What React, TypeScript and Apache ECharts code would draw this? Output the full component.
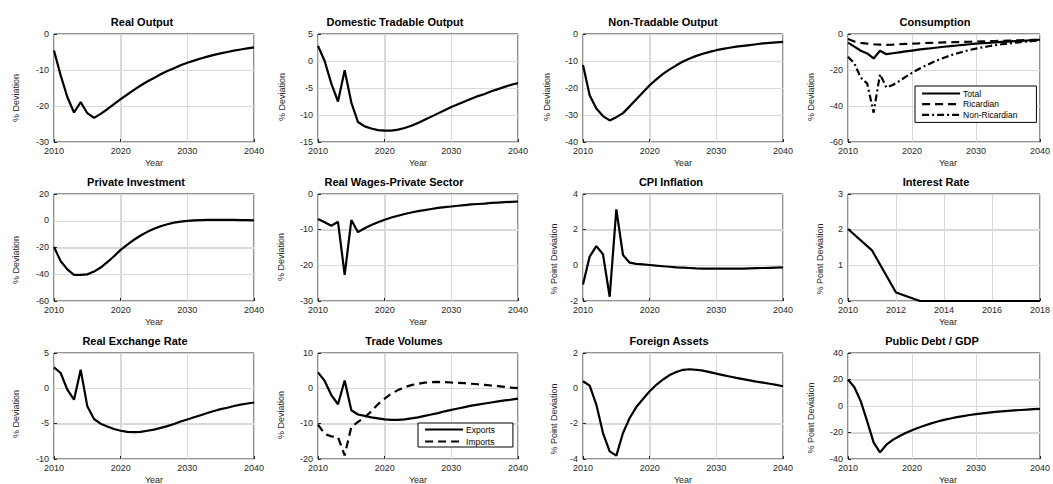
import React, { useEffect, useRef } from "react";
import * as echarts from "echarts";

const years = [2010, 2011, 2012, 2013, 2014, 2015, 2016, 2017, 2018, 2019, 2020, 2021, 2022, 2023, 2024, 2025, 2026, 2027, 2028, 2029, 2030, 2031, 2032, 2033, 2034, 2035, 2036, 2037, 2038, 2039, 2040];
const yearsShort = [2010, 2011, 2012, 2013, 2014, 2015, 2016, 2017, 2018];

const realOutput = [-4.6, -11.5, -17.5, -21.8, -18.9, -22.0, -23.3, -22.2, -20.9, -19.5, -18.1, -16.8, -15.5, -14.3, -13.2, -12.2, -11.2, -10.3, -9.5, -8.7, -8.0, -7.4, -6.8, -6.3, -5.8, -5.4, -5.0, -4.6, -4.3, -4.0, -3.7];
const domTradable = [2.8, 0.0, -4.2, -7.5, -1.7, -7.7, -11.3, -12.1, -12.5, -12.8, -12.9, -12.9, -12.7, -12.4, -12.0, -11.5, -10.9, -10.3, -9.7, -9.1, -8.5, -8.0, -7.5, -7.0, -6.5, -6.1, -5.6, -5.2, -4.8, -4.4, -4.1];
const nonTradable = [-11.5, -22.7, -27.6, -30.4, -32.0, -30.8, -29.3, -26.8, -24.2, -21.6, -19.0, -16.8, -14.8, -13.1, -11.6, -10.2, -9.1, -8.1, -7.3, -6.6, -6.0, -5.5, -5.1, -4.7, -4.4, -4.1, -3.8, -3.5, -3.3, -3.1, -2.9];
const consTotal = [-4.8, -7.0, -9.3, -10.8, -13.6, -9.3, -11.2, -10.7, -10.2, -9.7, -9.2, -8.7, -8.3, -7.9, -7.5, -7.1, -6.7, -6.4, -6.0, -5.7, -5.4, -5.1, -4.9, -4.6, -4.4, -4.2, -4.0, -3.8, -3.6, -3.4, -3.2];
const consRicardian = [-2.8, -4.2, -4.9, -5.3, -5.7, -5.9, -6.0, -5.9, -5.7, -5.5, -5.3, -5.2, -5.0, -4.9, -4.8, -4.7, -4.6, -4.5, -4.4, -4.3, -4.2, -4.1, -4.0, -3.9, -3.8, -3.7, -3.6, -3.5, -3.4, -3.3, -3.2];
const consNonRicardian = [-12.6, -16.4, -24.3, -27.5, -43.7, -22.3, -29.7, -28.3, -26.2, -23.8, -21.6, -19.6, -17.8, -16.1, -14.6, -13.2, -11.9, -10.8, -9.8, -8.9, -8.1, -7.4, -6.8, -6.2, -5.7, -5.3, -4.9, -4.5, -4.2, -3.9, -3.6];
const privInvestment = [-19.6, -30.2, -36.4, -40.4, -40.4, -40.1, -38.0, -35.0, -31.0, -26.5, -21.8, -17.8, -14.2, -11.0, -8.3, -6.0, -4.1, -2.6, -1.4, -0.6, -0.1, 0.3, 0.5, 0.6, 0.7, 0.7, 0.6, 0.6, 0.5, 0.4, 0.3];
const realWages = [-7.0, -7.9, -8.9, -7.8, -22.7, -7.3, -10.7, -9.6, -8.7, -7.9, -7.2, -6.6, -6.1, -5.6, -5.2, -4.8, -4.5, -4.2, -3.9, -3.7, -3.5, -3.3, -3.1, -2.9, -2.8, -2.7, -2.5, -2.4, -2.3, -2.2, -2.1];
const cpiInflation = [-1.07, 0.49, 1.08, 0.62, -1.76, 3.14, 0.58, 0.15, 0.08, 0.05, 0.02, -0.02, -0.05, -0.08, -0.11, -0.13, -0.15, -0.17, -0.18, -0.19, -0.19, -0.19, -0.19, -0.18, -0.18, -0.17, -0.16, -0.15, -0.14, -0.13, -0.12];
const interestRate = [2.02, 1.42, 0.24, 0, 0, 0, 0, 0, 0];
const realExchange = [2.97, 2.17, -0.19, -1.6, 2.64, -2.55, -4.34, -5.0, -5.4, -5.75, -6.0, -6.15, -6.2, -6.15, -6.0, -5.85, -5.6, -5.35, -5.05, -4.7, -4.4, -4.1, -3.8, -3.5, -3.2, -2.95, -2.75, -2.5, -2.3, -2.15, -2.0];
const exportsVol = [4.5, 2.1, -1.9, -4.5, 2.2, -6.2, -7.4, -7.8, -8.2, -8.5, -8.8, -8.9, -8.9, -8.8, -8.5, -8.2, -7.8, -7.4, -7.0, -6.5, -6.1, -5.7, -5.3, -4.9, -4.6, -4.3, -4.0, -3.7, -3.4, -3.2, -2.9];
const importsVol = [-10.3, -12.9, -13.6, -13.8, -19.0, -10.9, -9.5, -8.2, -6.5, -4.5, -2.9, -1.5, -0.5, 0.3, 0.9, 1.3, 1.6, 1.75, 1.8, 1.75, 1.65, 1.55, 1.45, 1.3, 1.15, 1.0, 0.8, 0.6, 0.4, 0.2, 0.05];
const foreignAssets = [0.4, 0.15, -0.92, -2.53, -3.57, -3.81, -2.53, -1.68, -1.06, -0.6, -0.17, 0.2, 0.5, 0.75, 0.92, 1.05, 1.08, 1.05, 1.0, 0.92, 0.83, 0.75, 0.67, 0.59, 0.52, 0.45, 0.38, 0.32, 0.26, 0.2, 0.12];
const publicDebt = [19.9, 14.1, 3.5, -11.6, -27.4, -35.0, -29.2, -25.6, -22.8, -20.4, -18.3, -16.4, -14.7, -13.1, -11.7, -10.5, -9.4, -8.4, -7.6, -6.8, -6.1, -5.5, -5.0, -4.5, -4.1, -3.7, -3.3, -3.0, -2.7, -2.4, -2.1];

const DEV = "% Deviation";
const PDEV = "% Point Deviation";
const SOLID = "solid";
const DASH = [8, 5];
const DASHDOT = [7, 3, 2, 3];

type S = { name: string; x: number[]; y: number[]; dash: any };
type P = {
  title: string; ylabel: string; yMin: number; yMax: number; yInt: number;
  xMin: number; xMax: number; xInt: number; year: boolean; series: S[];
  tx: number; lx: number; ly: number;
};

const panels: P[] = [
  { title: "Real Output", ylabel: DEV, yMin: -30, yMax: 0, yInt: 10, xMin: 2010, xMax: 2040, xInt: 10, year: true, tx: 142, lx: 16, ly: 98, series: [{ name: "Real Output", x: years, y: realOutput, dash: SOLID }] },
  { title: "Domestic Tradable Output", ylabel: DEV, yMin: -15, yMax: 5, yInt: 5, xMin: 2010, xMax: 2040, xInt: 10, year: true, tx: 395, lx: 282, ly: 97, series: [{ name: "Domestic Tradable Output", x: years, y: domTradable, dash: SOLID }] },
  { title: "Non-Tradable Output", ylabel: DEV, yMin: -40, yMax: 0, yInt: 10, xMin: 2010, xMax: 2040, xInt: 10, year: true, tx: 663, lx: 547, ly: 97, series: [{ name: "Non-Tradable Output", x: years, y: nonTradable, dash: SOLID }] },
  { title: "Consumption", ylabel: DEV, yMin: -60, yMax: 0, yInt: 20, xMin: 2010, xMax: 2040, xInt: 10, year: true, tx: 935, lx: 811, ly: 97, series: [
    { name: "Total", x: years, y: consTotal, dash: SOLID },
    { name: "Ricardian", x: years, y: consRicardian, dash: DASH },
    { name: "Non-Ricardian", x: years, y: consNonRicardian, dash: DASHDOT },
  ] },
  { title: "Private Investment", ylabel: DEV, yMin: -60, yMax: 20, yInt: 20, xMin: 2010, xMax: 2040, xInt: 10, year: true, tx: 136, lx: 16, ly: 260, series: [{ name: "Private Investment", x: years, y: privInvestment, dash: SOLID }] },
  { title: "Real Wages-Private Sector", ylabel: DEV, yMin: -30, yMax: 0, yInt: 10, xMin: 2010, xMax: 2040, xInt: 10, year: true, tx: 394, lx: 281, ly: 257, series: [{ name: "Real Wages-Private Sector", x: years, y: realWages, dash: SOLID }] },
  { title: "CPI Inflation", ylabel: PDEV, yMin: -2, yMax: 4, yInt: 2, xMin: 2010, xMax: 2040, xInt: 10, year: false, tx: 671, lx: 554, ly: 259, series: [{ name: "CPI Inflation", x: years, y: cpiInflation, dash: SOLID }] },
  { title: "Interest Rate", ylabel: PDEV, yMin: 0, yMax: 3, yInt: 1, xMin: 2010, xMax: 2018, xInt: 2, year: true, tx: 936, lx: 820, ly: 259, series: [{ name: "Interest Rate", x: yearsShort, y: interestRate, dash: SOLID }] },
  { title: "Real Exchange Rate", ylabel: DEV, yMin: -10, yMax: 5, yInt: 5, xMin: 2010, xMax: 2040, xInt: 10, year: true, tx: 135, lx: 16, ly: 414, series: [{ name: "Real Exchange Rate", x: years, y: realExchange, dash: SOLID }] },
  { title: "Trade Volumes", ylabel: DEV, yMin: -20, yMax: 10, yInt: 10, xMin: 2010, xMax: 2040, xInt: 10, year: true, tx: 404, lx: 281, ly: 415, series: [
    { name: "Exports", x: years, y: exportsVol, dash: SOLID },
    { name: "Imports", x: years, y: importsVol, dash: DASH },
  ] },
  { title: "Foreign Assets", ylabel: PDEV, yMin: -4, yMax: 2, yInt: 2, xMin: 2010, xMax: 2040, xInt: 10, year: true, tx: 669, lx: 554, ly: 419, series: [{ name: "Foreign Assets", x: years, y: foreignAssets, dash: SOLID }] },
  { title: "Public Debt / GDP", ylabel: PDEV, yMin: -40, yMax: 40, yInt: 20, xMin: 2010, xMax: 2040, xInt: 10, year: true, tx: 932, lx: 811, ly: 418, series: [{ name: "Public Debt / GDP", x: years, y: publicDebt, dash: SOLID }] },
];

const colLeft = [54, 318, 583, 848];
const rowTop = [34, 194, 353];
const rowHeight = [108, 107, 106];
const plotWidth = 200;
const FONT = "'Liberation Sans', Arial, Helvetica, sans-serif";
const AXC = "#262626";
const GRIDC = "#d9d9d9";

function innerTicks(min: number, max: number, step: number): number[] {
  const out: number[] = [];
  for (let v = min + step; v < max - step / 1000; v += step) out.push(v);
  return out;
}

export default function App() {
  const ref = useRef<HTMLDivElement>(null);
  useEffect(() => {
    if (!ref.current) return;
    const chart = echarts.init(ref.current, undefined, { renderer: "svg" });
    const grid: any[] = [];
    const xAxis: any[] = [];
    const yAxis: any[] = [];
    const series: any[] = [];
    const texts: any[] = [];
    panels.forEach((p, i) => {
      const r = Math.floor(i / 4);
      const c = i % 4;
      const left = colLeft[c];
      const top = rowTop[r];
      const h = rowHeight[r];
      grid.push({ left, top, width: plotWidth, height: h, show: true, borderColor: AXC, borderWidth: 1 });
      xAxis.push({
        type: "value", gridIndex: i, min: p.xMin, max: p.xMax, interval: p.xInt,
        axisLine: { show: false, onZero: false },
        axisTick: { show: true, inside: true, length: 3, lineStyle: { color: AXC } },
        axisLabel: { fontSize: 9, color: AXC, margin: 4, fontFamily: FONT, formatter: (v: number) => String(v) },
        splitLine: { show: true, lineStyle: { color: GRIDC, width: 1 } },
      });
      yAxis.push({
        type: "value", gridIndex: i, min: p.yMin, max: p.yMax, interval: p.yInt,
        axisLine: { show: false, onZero: false },
        axisTick: { show: true, inside: true, length: 3, lineStyle: { color: AXC } },
        axisLabel: { fontSize: 9, color: AXC, margin: 5, fontFamily: FONT, verticalAlign: "bottom", padding: [0, 0, -4, 0] },
        splitLine: { show: true, lineStyle: { color: GRIDC, width: 1 } },
      });
      p.series.forEach((s) => {
        series.push({
          type: "line", name: s.name, xAxisIndex: i, yAxisIndex: i,
          data: s.x.map((x, k) => [x, s.y[k]]),
          showSymbol: false, symbol: "none", z: 6,
          lineStyle: { color: "#000", width: 2.2, type: s.dash },
          itemStyle: { color: "#000" },
        });
      });
      texts.push({
        type: "text", x: p.tx, y: top - 12,
        style: { text: p.title, fontSize: 11, fontWeight: "bold", fill: "#000", fontFamily: FONT, align: "center", verticalAlign: "middle" },
      });
      texts.push({
        type: "text", x: p.lx, y: p.ly, rotation: Math.PI / 2,
        style: { text: p.ylabel, fontSize: 9, fill: AXC, fontFamily: FONT, align: "center", verticalAlign: "middle" },
      });
      if (p.year) {
        texts.push({
          type: "text", x: left + plotWidth / 2, y: top + h + 21,
          style: { text: "Year", fontSize: 9, fill: AXC, fontFamily: FONT, align: "center", verticalAlign: "middle" },
        });
      }
    });
    const legendBase = {
      orient: "vertical", itemWidth: 38, itemHeight: 10, backgroundColor: "#fff",
      borderColor: "#000", borderWidth: 1, borderRadius: 0, z: 10,
      textStyle: { fontSize: 8.5, color: "#000", fontFamily: FONT, padding: [0, 0, 0, -2] },
      itemStyle: { opacity: 0, borderWidth: 0 },
      lineStyle: { width: 2.2, color: "#000" },
      selectedMode: false,
    };
    const option: any = {
      animation: false,
      textStyle: { fontFamily: FONT },
      grid, xAxis, yAxis, series,
      graphic: texts,
      legend: [
        { ...legendBase, data: ["Total", "Ricardian", "Non-Ricardian"], left: 915, top: 86, itemGap: 1.7, padding: [3, 19, 3, 6] },
        { ...legendBase, data: ["Exports", "Imports"], left: 418, top: 423, itemGap: 3, padding: [2, 18, 1, 6] },
      ],
    };
    chart.setOption(option);

    // grid lines placed through the axes' own scales (convertToPixel)
    const lines: any[] = [];
    panels.forEach((p, i) => {
      const finder = { gridIndex: i };
      const tl = chart.convertToPixel(finder as any, [p.xMin, p.yMax]) as number[];
      const br = chart.convertToPixel(finder as any, [p.xMax, p.yMin]) as number[];
      if (!tl || !br) return;
      innerTicks(p.xMin, p.xMax, p.xInt).forEach((v) => {
        const pt = chart.convertToPixel(finder as any, [v, p.yMin]) as number[];
        const x = Math.round(pt[0]) + 0.5;
        lines.push({ type: "line", silent: true, z: 1, shape: { x1: x, y1: tl[1], x2: x, y2: br[1] }, style: { stroke: GRIDC, lineWidth: 1 } });
      });
      innerTicks(p.yMin, p.yMax, p.yInt).forEach((v) => {
        const pt = chart.convertToPixel(finder as any, [p.xMin, v]) as number[];
        const y = Math.round(pt[1]) + 0.5;
        lines.push({ type: "line", silent: true, z: 1, shape: { x1: tl[0], y1: y, x2: br[0], y2: y }, style: { stroke: GRIDC, lineWidth: 1 } });
      });
    });
    chart.setOption({ graphic: [...texts, ...lines] });
    return () => chart.dispose();
  }, []);
  return <div ref={ref} style={{ position: "fixed", left: 0, top: 0, width: 1053, height: 484, background: "#fff" }} />;
}
